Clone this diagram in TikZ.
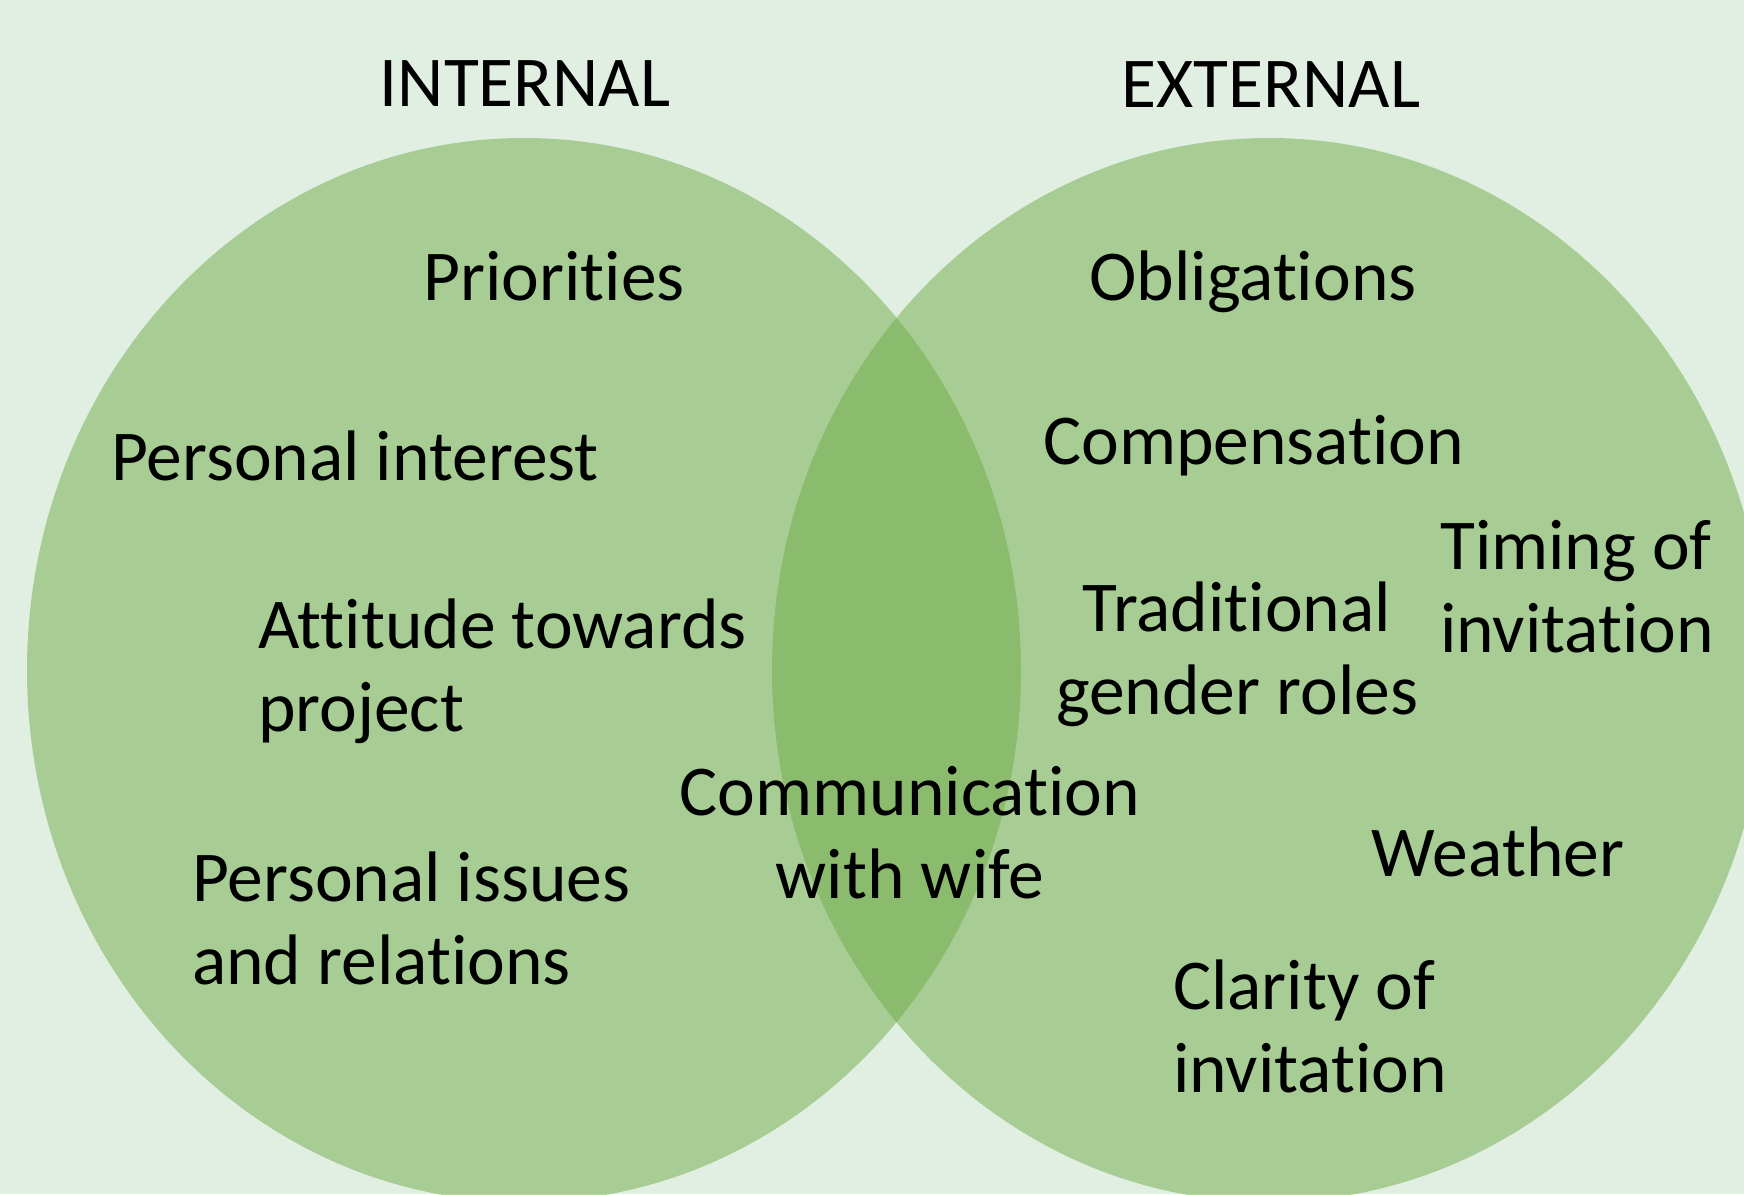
\documentclass[tikz,border=0pt]{standalone}
\usepackage{fontspec}
\setmainfont[Ligatures={NoCommon}]{Carlito}
\definecolor{pagebg}{RGB}{224,239,226}
\definecolor{setgreen}{RGB}{112,173,71}
\tikzset{
  setfill/.style={fill=setgreen, fill opacity=0.5},
  lbl/.style={inner sep=0pt, text=black, font=\fontsize{71.5}{83.5}\selectfont},
}
% multi-line labels whose baseline is the first line's baseline
\newcommand{\linesl}[1]{\begin{tabular}[t]{@{}l@{}}#1\end{tabular}}
\newcommand{\linesc}[1]{\begin{tabular}[t]{@{}c@{}}#1\end{tabular}}
\begin{document}
\begin{tikzpicture}[x=1pt, y=-1pt]
  \useasboundingbox (0,0) rectangle (1744,1194);
  \fill[pagebg] (0,0) rectangle (1744,1194);
  \begin{scope}
    \clip (0,0) rectangle (1744,1194);
    \fill[setfill] (524,670) ellipse [x radius=497pt, y radius=532pt];
    \fill[setfill] (1269,670) ellipse [x radius=497pt, y radius=532pt];
  \end{scope}

  % set headings
  \node[lbl, anchor=base] (internal) at (525,106) {INTERNAL};
  \node[lbl, anchor=base] (external) at (1271,107) {EXTERNAL};

  % internal factors
  \node[lbl, anchor=base] (priorities) at (554,300) {Priorities};
  \node[lbl, anchor=base west] (interest) at (111,480) {Personal interest};
  \node[lbl, anchor=base west] (attitude) at (258,648) {\linesl{Attitude towards\\project}};
  \node[lbl, anchor=base west] (issues) at (192,901) {\linesl{Personal issues\\and relations}};

  % shared factor
  \node[lbl, anchor=base] (communication) at (910,815) {\linesc{Communication\\with wife}};

  % external factors
  \node[lbl, anchor=base] (obligations) at (1253,300) {Obligations};
  \node[lbl, anchor=base west] (compensation) at (1043,464) {Compensation};
  \node[lbl, anchor=base] (gender) at (1237,631) {\linesc{Traditional\\gender roles}};
  \node[lbl, anchor=base west] (timing) at (1440,569) {\linesl{Timing of\\invitation}};
  \node[lbl, anchor=base] (weather) at (1498,876) {Weather};
  \node[lbl, anchor=base west] (clarity) at (1173,1009) {\linesl{Clarity of\\invitation}};
\end{tikzpicture}
\end{document}
